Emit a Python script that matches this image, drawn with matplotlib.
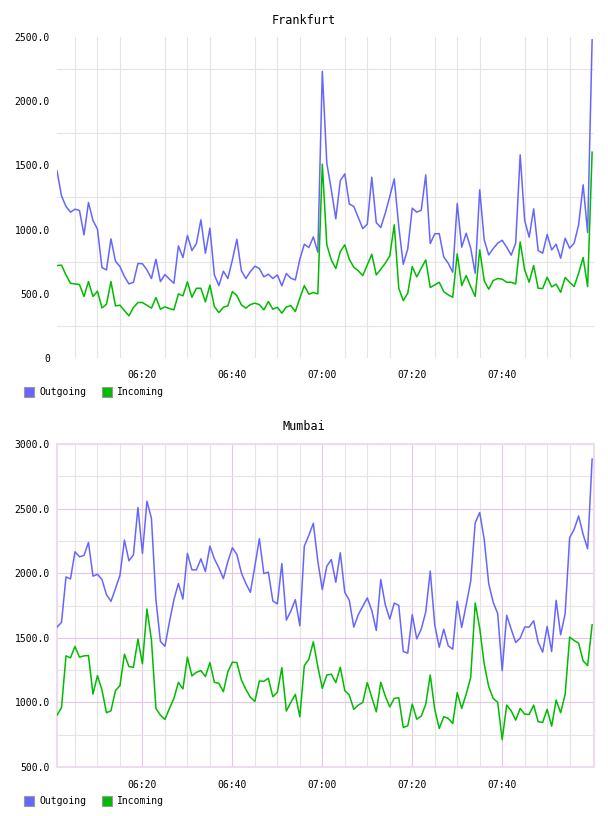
import matplotlib
matplotlib.use('Agg')
import matplotlib.pyplot as plt
import matplotlib.dates as mdates
import matplotlib.patches as mpatches
from matplotlib.ticker import FuncFormatter
import pandas as pd

# one sample per minute, 06:01 .. 08:00
times = pd.date_range('2013-05-14 06:01', periods=120, freq='min')

frankfurt_out = [
    1458, 1263, 1180, 1136, 1159, 1149, 959, 1211, 1071, 1003,
    704, 686, 928, 754, 712, 634, 577, 590, 736, 734,
    686, 619, 769, 595, 650, 614, 582, 873, 782, 954,
    837, 891, 1076, 816, 1011, 647, 564, 676, 619, 764,
    925, 679, 619, 673, 715, 697, 632, 653, 619, 647,
    562, 658, 621, 608, 769, 886, 860, 943, 824,
    2232, 1517, 1310, 1084, 1382, 1434, 1200, 1180, 1094, 1008,
    1042, 1408, 1055, 1016, 1128, 1258, 1395, 1024, 730, 850,
    1167, 1136, 1151, 1426, 891, 967, 969, 788, 738, 668,
    1203, 863, 972, 855, 660, 1310, 920, 803, 852, 894,
    917, 863, 801, 894, 1582, 1071, 941, 1162, 837, 816,
    962, 842, 886, 777, 933, 855, 894, 1037, 1349, 977,
    2478,
]
frankfurt_in = [
    720, 723, 647, 582, 577, 572, 479, 595, 479, 520,
    390, 419, 595, 406, 411, 369, 328, 393, 432, 432,
    411, 388, 471, 380, 398, 385, 375, 499, 484, 593,
    473, 543, 543, 437, 567, 401, 354, 395, 406, 517,
    486, 414, 388, 416, 427, 416, 375, 440, 380, 395,
    349, 398, 408, 362, 466, 564, 497, 510, 499,
    1510, 881, 764, 697, 829, 881, 769, 707, 679, 642,
    725, 808, 647, 691, 738, 795, 1037, 543, 447, 505,
    712, 632, 699, 764, 549, 569, 590, 517, 492, 473,
    811, 564, 642, 556, 479, 842, 603, 536, 603, 619,
    614, 590, 590, 577, 904, 686, 590, 720, 543, 541,
    629, 554, 575, 512, 627, 590, 556, 660, 782, 556,
    1603,
]
mumbai_out = [
    1583, 1619, 1971, 1956, 2166, 2127, 2137, 2238, 1977, 1992,
    1951, 1834, 1782, 1881, 1984, 2256, 2096, 2142, 2508, 2153,
    2557, 2425, 1795, 1471, 1435, 1622, 1795, 1920, 1800, 2153,
    2026, 2026, 2111, 2013, 2210, 2111, 2041, 1958, 2091, 2197,
    2145, 2003, 1920, 1852, 2054, 2267, 1997, 2008, 1785, 1762,
    2075, 1637, 1707, 1795, 1593, 2210, 2293, 2386, 2093,
    1873, 2054, 2106, 1930, 2158, 1852, 1790, 1583, 1679, 1744,
    1808, 1712, 1557, 1951, 1756, 1645, 1769, 1751, 1394, 1381,
    1679, 1492, 1567, 1699, 2016, 1601, 1427, 1567, 1438, 1412,
    1782, 1580, 1756, 1938, 2391, 2469, 2262, 1920, 1775, 1687,
    1246, 1674, 1567, 1464, 1497, 1583, 1583, 1632, 1466, 1389,
    1588, 1394, 1790, 1523, 1687, 2275, 2339, 2443, 2300, 2189,
    2883,
]
mumbai_in = [
    901, 959, 1360, 1345, 1433, 1350, 1360, 1363, 1065, 1207,
    1096, 920, 935, 1091, 1130, 1373, 1277, 1272, 1490, 1298,
    1723, 1484, 953, 901, 868, 953, 1031, 1155, 1104, 1350,
    1205, 1233, 1246, 1200, 1308, 1155, 1148, 1083, 1238, 1311,
    1308, 1174, 1101, 1039, 1008, 1166, 1163, 1187, 1044, 1078,
    1269, 933, 1000, 1062, 889, 1285, 1334, 1469, 1277,
    1109, 1212, 1218, 1153, 1272, 1091, 1057, 946, 979, 1000,
    1153, 1039, 927, 1155, 1049, 966, 1031, 1036, 806, 819,
    987, 870, 894, 985, 1212, 946, 798, 889, 876, 837,
    1075, 953, 1065, 1194, 1769, 1575, 1298, 1122, 1031, 1000,
    712, 979, 935, 863, 953, 909, 907, 979, 850, 845,
    946, 816, 1018, 920, 1062, 1505, 1479, 1458, 1321, 1285,
    1601,
]

series_names = ['Outgoing', 'Incoming']
series_colors = ['#6666ff', '#00bb00']
x_labels = ['06:20', '06:40', '07:00', '07:20', '07:40']

plt.rcParams['font.family'] = 'DejaVu Sans Mono'

W, H = 608, 816
fig = plt.figure(figsize=(W / 100, H / 100), dpi=100)


def px_rect(left, top, right, bottom):
    return [left / W, 1 - bottom / H, (right - left) / W, (bottom - top) / H]


def y_fmt(v, pos):
    return '0' if v == 0 else f'{v:.1f}'


def draw_panel(rect, title, out, inc, ymin, ymax, major_col, boxed):
    ax = fig.add_axes(px_rect(*rect))
    for vals, col in zip([out, inc], series_colors):
        ax.plot(times, vals, color=col, lw=1.1, zorder=3)

    ax.set_xlim(times[0], times[-1] + pd.Timedelta(seconds=25))
    ax.set_ylim(ymin, ymax)

    major_x = [pd.Timestamp('2013-05-14 ' + t) for t in x_labels]
    minor_x = pd.date_range('2013-05-14 06:05', '2013-05-14 07:55', freq='5min')
    ax.set_xticks(major_x)
    ax.set_xticklabels(x_labels)
    ax.set_xticks(minor_x, minor=True)
    ax.set_yticks(range(ymin, ymax + 1, 500))
    ax.set_yticks(range(ymin + 250, ymax, 500), minor=True)
    ax.yaxis.set_major_formatter(FuncFormatter(y_fmt))

    ax.grid(which='minor', color='#e4e4e4', lw=0.8, zorder=0)
    if major_col:
        ax.grid(which='major', color=major_col, lw=0.8, zorder=1)
    ax.tick_params(which='both', length=0, labelsize=7, colors='black')
    ax.tick_params(axis='x', pad=9)
    ax.tick_params(axis='y', pad=5)

    for s in ax.spines.values():
        if boxed:
            s.set_color('#ecdcec')
            s.set_linewidth(1.5)
        else:
            s.set_visible(False)

    top = rect[1]
    fig.text(0.5, 1 - (top - 17) / H, title, ha='center', va='center', fontsize=8.5)

    # legend under the plot
    ly = rect[3] + 34
    for (name, col, x0) in zip(series_names, series_colors, [24, 102]):
        fig.add_artist(mpatches.Rectangle(((x0) / W, 1 - (ly + 5) / H), 10 / W, 10 / H,
                                          transform=fig.transFigure, facecolor=col,
                                          edgecolor='#999999', lw=0.8))
        fig.text((x0 + 15) / W, 1 - ly / H, name, ha='left', va='center', fontsize=7)
    return ax


draw_panel((57, 37, 594, 358), 'Frankfurt', frankfurt_out, frankfurt_in, 0, 2500, None, False)
draw_panel((57, 444, 594, 767), 'Mumbai', mumbai_out, mumbai_in, 500, 3000, '#e2c8e2', True)

fig.savefig('out.png', dpi=100)
